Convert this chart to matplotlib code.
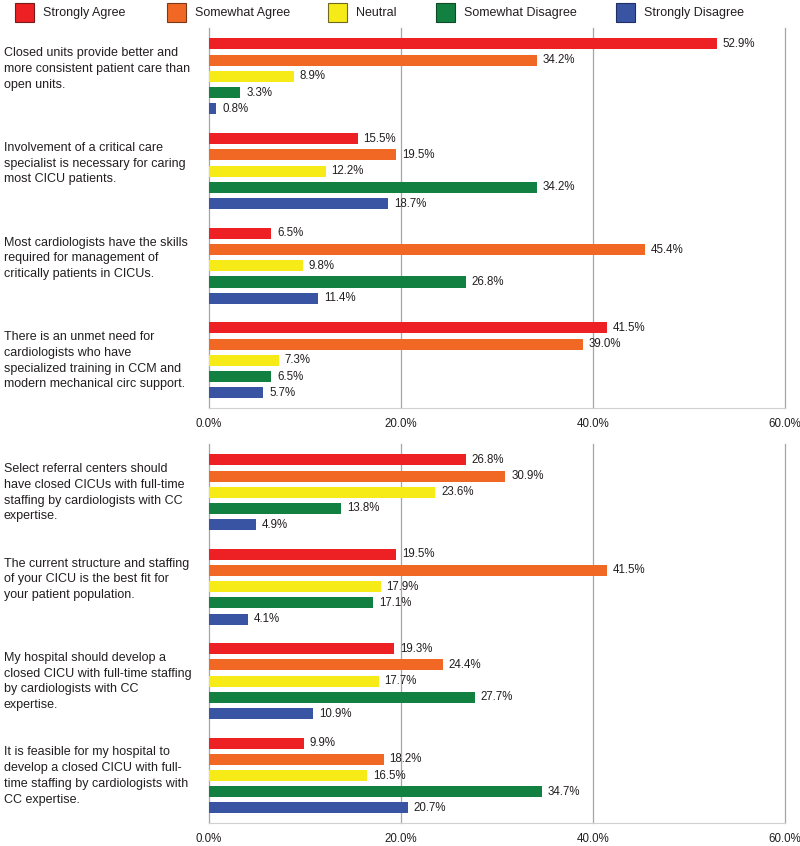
import matplotlib
matplotlib.use("Agg")
import matplotlib.pyplot as plt
import matplotlib.transforms as mtransforms
from matplotlib.patches import Rectangle
import numpy as np

plt.rcParams['font.family'] = ['Liberation Sans', 'DejaVu Sans']

# Response categories (legend order = bar order inside each group)
responses = ["Strongly Agree", "Somewhat Agree", "Neutral",
             "Somewhat Disagree", "Strongly Disagree"]
colors = ["#ED2024", "#F16724", "#F6EB16", "#128040", "#3A54A4"]
edge_colors = ["#7a1a1a", "#7a3a1a", "#6d6a20", "#0d4a26", "#1f2f66"]

# Statements, top panel
top_statements = [
    "Closed units provide better and\nmore consistent patient care than\nopen units.",
    "Involvement of a critical care\nspecialist is necessary for caring\nmost CICU patients.",
    "Most cardiologists have the skills\nrequired for management of\ncritically patients in CICUs.",
    "There is an unmet need for\ncardiologists who have\nspecialized training in CCM and\nmodern mechanical circ support.",
]
top_values = [
    [52.9, 34.2, 8.9, 3.3, 0.8],
    [15.5, 19.5, 12.2, 34.2, 18.7],
    [6.5, 45.4, 9.8, 26.8, 11.4],
    [41.5, 39.0, 7.3, 6.5, 5.7],
]

# Statements, bottom panel
bottom_statements = [
    "Select referral centers should\nhave closed CICUs with full-time\nstaffing by cardiologists with CC\nexpertise.",
    "The current structure and staffing\nof your CICU is the best fit for\nyour patient population.",
    "My hospital should develop a\nclosed CICU with full-time staffing\nby cardiologists with CC\nexpertise.",
    "It is feasible for my hospital to\ndevelop a closed CICU with full-\ntime staffing by cardiologists with\nCC expertise.",
]
bottom_values = [
    [26.8, 30.9, 23.6, 13.8, 4.9],
    [19.5, 41.5, 17.9, 17.1, 4.1],
    [19.3, 24.4, 17.7, 27.7, 10.9],
    [9.9, 18.2, 16.5, 34.7, 20.7],
]

x_ticks = [0, 20, 40, 60]

W, H = 800, 846
fig = plt.figure(figsize=(W / 100, H / 100), dpi=100)

text_color = "#231F20"
grid_color = "#A6A6A6"
group_step = 5.83
bar_h = 0.68


def px_box(left, top, right, bottom):
    """Axes rectangle from pixel edges (top-left origin)."""
    return [left / W, 1 - bottom / H, (right - left) / W, (bottom - top) / H]


def draw_panel(ax, statements, values):
    for g, (label, vals) in enumerate(zip(statements, values)):
        base = g * group_step
        ypos = base + np.arange(len(vals))
        ax.barh(ypos, vals, height=bar_h, color=colors, edgecolor="none", zorder=3)
        for y, v in zip(ypos, vals):
            ax.text(v + 0.6, y, f"{v:.1f}%", va="center", ha="left",
                    fontsize=8.3, color=text_color, zorder=4)

        # statement text, one line at a time, top aligned to the group
        trans = mtransforms.blended_transform_factory(fig.transFigure, ax.transData)
        for k, line in enumerate(label.split("\n")):
            ax.text(4 / W, base + 0.57 + k * 0.97, line, transform=trans,
                    ha="left", va="center", fontsize=9, color=text_color)

    ax.set_xlim(0, 60)
    ax.set_ylim(3 * group_step + 4 + 0.93, -0.98)
    ax.set_xticks(x_ticks)
    ax.set_xticklabels([f"{t:.1f}%" for t in x_ticks])
    ax.tick_params(axis="x", length=0, pad=7, labelsize=8.3, labelcolor=text_color)
    ax.set_yticks([])
    for t in x_ticks:
        ax.axvline(t, color=grid_color, linewidth=0.9, zorder=2, clip_on=False)
    for side in ["top", "right", "left"]:
        ax.spines[side].set_visible(False)
    ax.spines["bottom"].set_color("#D0D0D0")
    ax.spines["bottom"].set_linewidth(0.8)


ax_top = fig.add_axes(px_box(208.7, 28, 785, 408))
ax_bottom = fig.add_axes(px_box(208.7, 444, 785, 823))
draw_panel(ax_top, top_statements, top_values)
draw_panel(ax_bottom, bottom_statements, bottom_values)

# Legend drawn by hand along the top edge
legend_x = [15, 167, 328, 436, 616]
for x, name, c, ec in zip(legend_x, responses, colors, edge_colors):
    fig.add_artist(Rectangle((x / W, 1 - 22 / H), 19 / W, 19 / H,
                             transform=fig.transFigure, facecolor=c,
                             edgecolor=ec, linewidth=0.8))
    fig.text((x + 28) / W, 1 - 13 / H, name, ha="left", va="center",
             fontsize=9, color=text_color)

fig.savefig("out.png", dpi=100)
plt.close(fig)
